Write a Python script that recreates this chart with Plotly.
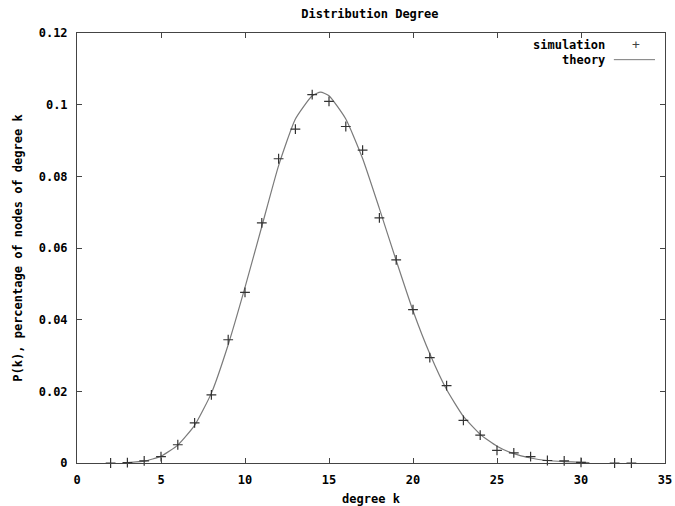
import plotly.graph_objects as go

# simulation data (degree k, P(k))
sim_k = [2, 3, 4, 5, 6, 7, 8, 9, 10, 11, 12, 13, 14, 15, 16, 17, 18, 19, 20,
         21, 22, 23, 24, 25, 26, 27, 28, 29, 30, 32, 33]
sim_p = [0.0, 0.0001, 0.0006, 0.0018, 0.0051, 0.0112, 0.0190, 0.0344, 0.0476,
         0.0670, 0.0849, 0.0932, 0.1028, 0.1009, 0.0939, 0.0873, 0.0684, 0.0567,
         0.0428, 0.0294, 0.0216, 0.0119, 0.0078, 0.0035, 0.0028, 0.0018, 0.0007,
         0.0006, 0.0002, 0.0, 0.0]

# theory curve
th_k = [3, 4, 5, 6, 7, 8, 9, 10, 11, 12, 13, 14, 14.5, 15, 16, 17, 18, 19, 20,
        21, 22, 23, 24, 25, 26, 27, 28, 29, 30, 30.5]
th_p = [0.0001, 0.0005, 0.0019, 0.0050, 0.0105, 0.0195, 0.0330, 0.0490, 0.0660,
        0.0830, 0.0960, 0.1025, 0.1035, 0.1025, 0.0960, 0.0850, 0.0710, 0.0565,
        0.0425, 0.0305, 0.0205, 0.0130, 0.0080, 0.0047, 0.0026, 0.0014, 0.0007,
        0.0004, 0.0002, 0.0001]

y_ticks = [0, 0.02, 0.04, 0.06, 0.08, 0.1, 0.12]
y_ticktext = ["0", "0.02", "0.04", "0.06", "0.08", "0.1", "0.12"]
x_ticks = [0, 5, 10, 15, 20, 25, 30, 35]
x_ticktext = ["0", "5", "10", "15", "20", "25", "30", "35"]

FONT = "DejaVu Sans Mono"
fnt = dict(family=FONT, size=12, color="#000000", weight="bold")

fig = go.Figure()
fig.add_trace(go.Scatter(x=th_k, y=th_p, mode="lines", name="theory",
                         line=dict(color="#7a7a7a", width=1.2, shape="spline", smoothing=0.5),
                         cliponaxis=False))
fig.add_trace(go.Scatter(x=sim_k, y=sim_p, mode="markers", name="simulation",
                         marker=dict(symbol="cross-thin", size=7,
                                     line=dict(color="#333333", width=1.2)),
                         cliponaxis=False))

axis_common = dict(showline=True, linecolor="#444444", linewidth=1, mirror="allticks",
                   ticks="inside", ticklen=5, tickcolor="#444444", showgrid=False,
                   zeroline=False, tickfont=fnt, automargin=False,
                   ticklabeloverflow="allow")

fig.update_layout(
    width=675, height=506,
    margin=dict(l=77, r=10, t=33, b=43, autoexpand=False),
    paper_bgcolor="white", plot_bgcolor="white",
    showlegend=False,
    title=dict(text="Distribution Degree", x=0.548, xanchor="center", y=0.972,
               yanchor="middle", font=fnt, automargin=False),
    xaxis=dict(range=[0, 35], tickvals=x_ticks, ticktext=x_ticktext,
               title=dict(text="degree k", font=fnt, standoff=8),
               ticklabelstandoff=6, **axis_common),
    yaxis=dict(range=[0, 0.12], tickvals=y_ticks, ticktext=y_ticktext,
               title=dict(text="P(k), percentage of nodes of degree k", font=fnt, standoff=13),
               ticklabelstandoff=6, **axis_common),
)

# gnuplot-style key (text on the left, sample on the right)
fig.add_annotation(xref="paper", yref="paper", x=0.901, y=0.972, xanchor="right",
                   yanchor="middle", text="simulation", showarrow=False, font=fnt)
fig.add_annotation(xref="paper", yref="paper", x=0.901, y=0.938, xanchor="right",
                   yanchor="middle", text="theory", showarrow=False, font=fnt)
fig.add_annotation(xref="paper", yref="paper", x=0.950, y=0.974, xanchor="center",
                   yanchor="middle", text="+", showarrow=False,
                   font=dict(family=FONT, size=13, color="#444444"))
fig.add_shape(type="line", xref="paper", yref="paper", x0=0.913, x1=0.983,
              y0=0.938, y1=0.938, line=dict(color="#7a7a7a", width=1))

fig.write_html("out.html", config={"displayModeBar": False},
               post_script="document.body.style.margin='0px';document.body.style.overflow='hidden';")
